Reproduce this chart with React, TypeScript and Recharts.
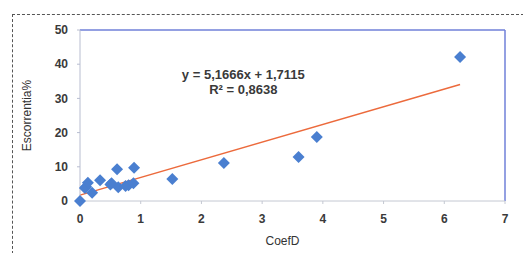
import {
  ScatterChart,
  Scatter,
  XAxis,
  YAxis,
  ReferenceLine,
  ReferenceDot,
  Label,
} from "recharts";

// CoefD vs Escorrentia%
const coefD = [
  0, 0.08, 0.1, 0.13, 0.2, 0.33, 0.5, 0.52, 0.61, 0.63, 0.75, 0.8, 0.88, 0.89,
  1.52, 2.37, 3.6, 3.9, 6.26,
];
const escorrentia = [
  0, 3.8, 4.2, 5.3, 2.4, 6.1, 4.8, 5.2, 9.3, 4.0, 4.4, 4.6, 5.2, 9.7, 6.4, 11.1,
  12.9, 18.7, 42.1,
];

const xTicks = [0, 1, 2, 3, 4, 5, 6, 7];
const yTicks = [0, 10, 20, 30, 40, 50];

// trendline as printed on the chart
const slope = 5.1666;
const intercept = 1.7115;
const eqText = "y = 5,1666x + 1,7115";
const r2Text = "R² = 0,8638";

const points = coefD.map((x, i) => ({ x, y: escorrentia[i] }));
const xMin = Math.min(...coefD);
const xMax = Math.max(...coefD);

const font = "'Liberation Sans', Arial, sans-serif";
const tickStyle = { fontSize: 12, fontWeight: 700, fill: "#3a3a3a", fontFamily: font };

const Diamond = (props: any) => {
  const { cx, cy } = props;
  const r = 6;
  return (
    <path
      d={`M${cx},${cy - r} L${cx + r},${cy} L${cx},${cy + r} L${cx - r},${cy} Z`}
      fill="#4a7fd0"
    />
  );
};

const EquationLabel = (props: any) => {
  const { viewBox } = props;
  const x = viewBox.x;
  const y = viewBox.y;
  return (
    <text
      x={x}
      y={y}
      textAnchor="middle"
      fontFamily={font}
      fontSize={13}
      fontWeight={700}
      fill="#3a3a3a"
    >
      <tspan x={x} dy={0}>{eqText}</tspan>
      <tspan x={x} dy={15}>{r2Text}</tspan>
    </text>
  );
};

export default function App() {
  return (
    <div style={{ position: "absolute", left: 0, top: 0, width: 523, height: 253, background: "#fff" }}>
      <div
        style={{
          position: "absolute",
          left: 12,
          top: 14,
          width: 511,
          height: 239,
          borderTop: "1px dashed #555",
          borderLeft: "1px dashed #555",
        }}
      />
      <ScatterChart
        width={523}
        height={253}
        margin={{ top: 30, right: 18, bottom: 22, left: 30 }}
        style={{ position: "absolute", left: 0, top: 0 }}
      >
        <XAxis
          type="number"
          dataKey="x"
          domain={[0, 7]}
          ticks={xTicks}
          height={30}
          stroke="#c4c8d2"
          tickSize={3}
          tick={tickStyle}
          tickMargin={10}
        >
          <Label
            value="CoefD"
            position="insideBottom"
            offset={-14}
            dx={-10}
            style={{ fontSize: 12, fill: "#333", fontFamily: font }}
          />
        </XAxis>
        <YAxis
          type="number"
          dataKey="y"
          domain={[0, 50]}
          ticks={yTicks}
          width={50}
          stroke="#b8bdd0"
          tickSize={3}
          tick={tickStyle}
          tickMargin={9}
        >
          <Label
            value="Escorrentia%"
            angle={-90}
            position="insideLeft"
            offset={-3}
            style={{ fontSize: 12, fill: "#333", fontFamily: font, textAnchor: "middle" }}
          />
        </YAxis>
        <ReferenceLine y={50} stroke="#7080d8" strokeWidth={1.5} />
        <ReferenceLine x={7} stroke="#7080d8" strokeWidth={1.5} />
        <ReferenceLine
          segment={[
            { x: xMin, y: slope * xMin + intercept },
            { x: xMax, y: slope * xMax + intercept },
          ]}
          stroke="#ec6a3c"
          strokeWidth={1.5}
        />
        <Scatter data={points} shape={<Diamond />} isAnimationActive={false} />
        <ReferenceDot
          x={2.69}
          y={35.8}
          r={0}
          fill="none"
          stroke="none"
          label={<EquationLabel />}
        />
      </ScatterChart>
    </div>
  );
}
